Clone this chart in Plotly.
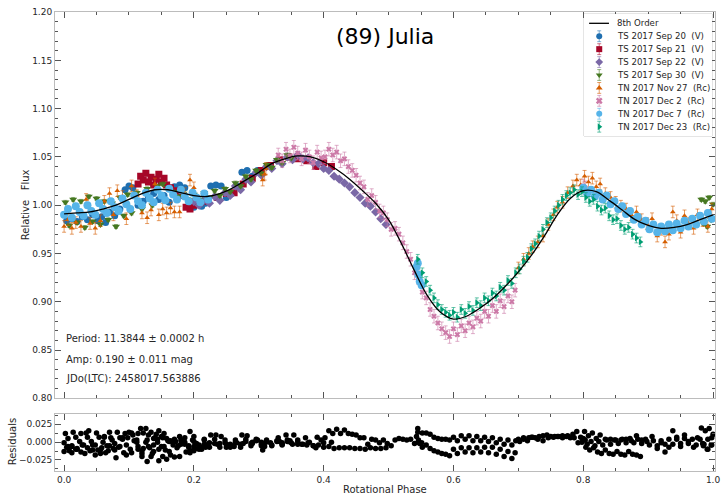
import plotly.graph_objects as go

# ---------------- data ----------------
FIT_PHASE = [0.00, 0.02, 0.04, 0.06, 0.08, 0.10, 0.12, 0.14, 0.16, 0.18, 0.20, 0.22, 0.24, 0.26,
             0.28, 0.30, 0.32, 0.34, 0.36, 0.38, 0.40, 0.42, 0.44, 0.46, 0.48, 0.50, 0.52, 0.54,
             0.56, 0.58, 0.60, 0.62, 0.64, 0.66, 0.68, 0.70, 0.72, 0.74, 0.76, 0.78, 0.80, 0.82,
             0.84, 0.86, 0.88, 0.90, 0.92, 0.94, 0.96, 0.98, 1.00]
FIT_FLUX = [0.991, 0.992, 0.993, 0.996, 1.000, 1.006, 1.012, 1.016, 1.016, 1.013, 1.010, 1.009,
            1.012, 1.018, 1.026, 1.034, 1.043, 1.048, 1.051, 1.050, 1.045, 1.037, 1.027, 1.015,
            1.002, 0.985, 0.960, 0.932, 0.906, 0.889, 0.882, 0.885, 0.893, 0.903, 0.916, 0.931,
            0.948, 0.968, 0.990, 1.007, 1.015, 1.014, 1.005, 0.995, 0.985, 0.979, 0.976, 0.977,
            0.980, 0.985, 0.990]

# (phase, relative flux, residual)
sep20 = [(0.004, 0.984, -0.007), (0.012, 0.986, -0.006), (0.020, 0.983, -0.009), (0.028, 0.988, -0.004),
         (0.036, 0.985, -0.008), (0.044, 0.990, -0.004), (0.052, 0.984, -0.011), (0.058, 0.988, -0.008),
         (0.064, 0.982, -0.015), (0.070, 0.993, -0.005), (0.078, 0.989, -0.011), (0.086, 0.996, -0.006),
         (0.094, 1.016, 0.012), (0.100, 1.020, 0.014), (0.106, 1.018, 0.010), (0.114, 1.000, -0.010),
         (0.122, 1.004, -0.009), (0.130, 1.008, -0.006), (0.138, 1.012, -0.004), (0.146, 1.006, -0.010),
         (0.154, 1.010, -0.006), (0.162, 1.003, -0.013), (0.170, 1.019, 0.004), (0.178, 1.021, 0.008),
         (0.186, 1.018, 0.006), (0.194, 0.999, -0.012), (0.200, 0.998, -0.012), (0.206, 1.001, -0.009),
         (0.212, 0.999, -0.010), (0.218, 1.002, -0.007), (0.226, 1.020, 0.010), (0.234, 1.021, 0.010),
         (0.242, 1.020, 0.008), (0.250, 1.008, -0.007), (0.258, 1.012, -0.005), (0.266, 1.020, -0.001),
         (0.274, 1.034, 0.010), (0.282, 1.036, 0.009), (0.290, 1.030, 0.000), (0.298, 1.036, 0.003)]

sep21 = [(0.114, 1.022, 0.012), (0.118, 1.030, 0.019), (0.122, 1.026, 0.013), (0.126, 1.033, 0.019),
         (0.130, 1.024, 0.010), (0.134, 1.029, 0.014), (0.138, 1.021, 0.005), (0.142, 1.027, 0.011),
         (0.146, 1.032, 0.016), (0.150, 1.024, 0.008), (0.154, 1.028, 0.012), (0.158, 1.021, 0.005),
         (0.164, 1.018, 0.002), (0.172, 1.015, 0.001), (0.180, 1.010, -0.003), (0.188, 0.998, -0.014),
         (0.194, 0.996, -0.015), (0.200, 1.000, -0.010), (0.210, 1.003, -0.007), (0.222, 1.004, -0.005),
         (0.236, 1.008, -0.003), (0.250, 1.012, -0.003), (0.262, 1.013, -0.006), (0.276, 1.022, -0.002),
         (0.290, 1.028, -0.002), (0.304, 1.036, 0.000), (0.318, 1.041, -0.001), (0.332, 1.047, 0.001),
         (0.346, 1.050, 0.001), (0.360, 1.048, -0.003), (0.374, 1.046, -0.004), (0.388, 1.040, -0.008),
         (0.400, 1.044, -0.001), (0.412, 1.040, 0.000)]

sep22 = [(0.200, 1.004, -0.006), (0.208, 1.000, -0.010), (0.216, 1.006, -0.003), (0.224, 1.002, -0.007),
         (0.232, 1.009, -0.002), (0.240, 1.005, -0.007), (0.248, 1.013, -0.001), (0.256, 1.010, -0.007),
         (0.264, 1.020, 0.000), (0.272, 1.016, -0.007), (0.280, 1.027, 0.001), (0.288, 1.024, -0.005),
         (0.296, 1.034, 0.002), (0.304, 1.031, -0.005), (0.312, 1.040, 0.001), (0.320, 1.038, -0.005),
         (0.328, 1.046, 0.001), (0.336, 1.043, -0.004), (0.344, 1.050, 0.001), (0.352, 1.047, -0.003),
         (0.360, 1.052, 0.001), (0.368, 1.048, -0.003), (0.376, 1.049, -0.001), (0.384, 1.044, -0.005),
         (0.392, 1.043, -0.004), (0.400, 1.038, -0.007), (0.408, 1.036, -0.006), (0.416, 1.030, -0.009),
         (0.424, 1.027, -0.008), (0.432, 1.023, -0.008), (0.440, 1.019, -0.008), (0.448, 1.013, -0.009),
         (0.456, 1.008, -0.009), (0.464, 1.002, -0.010), (0.472, 0.999, -0.008), (0.480, 0.993, -0.009),
         (0.488, 0.986, -0.009), (0.496, 0.980, -0.008)]

sep30 = [(0.002, 1.003, 0.012), (0.008, 0.979, -0.012), (0.014, 1.006, 0.014), (0.020, 0.982, -0.010),
         (0.026, 1.004, 0.012), (0.032, 0.977, -0.016), (0.038, 1.009, 0.016), (0.044, 0.983, -0.011),
         (0.050, 1.007, 0.013), (0.056, 0.980, -0.016), (0.062, 1.004, 0.008), (0.068, 0.985, -0.012),
         (0.074, 1.002, 0.003), (0.080, 0.978, -0.022), (0.086, 1.008, 0.006), (0.092, 0.989, -0.015),
         (0.098, 1.011, 0.006), (0.104, 0.992, -0.015), (0.112, 1.013, 0.003), (0.120, 0.996, -0.016),
         (0.128, 1.017, 0.003), (0.136, 1.000, -0.016), (0.144, 1.020, 0.004), (0.152, 1.022, 0.006),
         (0.160, 1.018, 0.002), (0.168, 1.014, -0.001), (0.176, 1.009, -0.005), (0.184, 1.012, 0.000),
         (0.192, 1.006, -0.005), (0.200, 1.011, 0.001), (0.208, 1.006, -0.004), (0.216, 1.013, 0.004),
         (0.224, 1.008, -0.001), (0.232, 1.015, 0.004), (0.240, 1.010, -0.002), (0.248, 1.017, 0.003),
         (0.256, 1.014, -0.003), (0.264, 1.023, 0.003), (0.272, 1.020, -0.003), (0.280, 1.030, 0.004),
         (0.288, 1.027, -0.002), (0.296, 1.036, 0.004), (0.304, 1.033, -0.003), (0.312, 1.042, 0.003),
         (0.320, 1.039, -0.004), (0.328, 1.047, 0.002), (0.336, 1.044, -0.003), (0.344, 1.052, 0.003),
         (0.350, 1.049, -0.001), (0.982, 1.006, 0.020), (0.985, 0.981, -0.005), (0.988, 1.004, 0.016),
         (0.991, 0.978, -0.010), (0.994, 1.008, 0.019), (0.997, 0.985, -0.004), (1.000, 1.001, 0.011)]

nov27 = [(0.000, 0.978, -0.013), (0.006, 0.985, -0.006), (0.012, 0.976, -0.015), (0.018, 0.982, -0.010),
         (0.026, 0.978, -0.014), (0.034, 1.006, 0.013), (0.040, 0.981, -0.012), (0.048, 0.976, -0.018),
         (0.056, 0.984, -0.011), (0.062, 1.004, 0.007), (0.070, 1.012, 0.014), (0.076, 0.990, -0.009),
         (0.082, 1.015, 0.014), (0.090, 1.009, 0.006), (0.096, 0.986, -0.018), (0.104, 1.020, 0.013),
         (0.112, 1.010, 0.000), (0.120, 0.992, -0.020), (0.128, 0.987, -0.027), (0.134, 0.995, -0.020),
         (0.140, 1.022, 0.006), (0.146, 0.990, -0.026), (0.152, 0.996, -0.020), (0.158, 0.992, -0.024),
         (0.164, 0.997, -0.018), (0.170, 0.993, -0.021), (0.178, 0.993, -0.020), (0.186, 1.012, 0.000),
         (0.194, 1.026, 0.015), (0.200, 1.018, 0.008), (0.306, 1.026, -0.011), (0.309, 1.032, -0.006),
         (0.311, 1.038, 0.000), (0.700, 0.935, 0.004), (0.708, 0.944, 0.006), (0.716, 0.950, 0.006),
         (0.722, 0.957, 0.007), (0.730, 0.962, 0.004), (0.738, 0.968, 0.002), (0.746, 0.980, 0.006),
         (0.754, 0.990, 0.007), (0.760, 0.998, 0.008), (0.768, 1.003, 0.006), (0.776, 1.013, 0.009),
         (0.784, 1.020, 0.011), (0.790, 1.026, 0.015), (0.796, 1.021, 0.007), (0.802, 1.030, 0.015),
         (0.808, 1.024, 0.009), (0.814, 1.028, 0.013), (0.820, 1.019, 0.005), (0.826, 1.022, 0.010),
         (0.834, 1.012, 0.004), (0.842, 1.008, 0.004), (0.850, 1.003, 0.003), (0.858, 0.999, 0.003),
         (0.866, 0.996, 0.004), (0.874, 0.990, 0.002), (0.882, 0.993, 0.009), (0.890, 0.985, 0.003),
         (0.898, 0.981, 0.001), (0.906, 0.986, 0.008), (0.914, 0.968, -0.009), (0.920, 0.975, -0.001),
         (0.926, 0.962, -0.014), (0.932, 0.970, -0.007), (0.938, 0.993, 0.016), (0.944, 0.984, 0.007),
         (0.950, 0.972, -0.006), (0.956, 0.989, 0.010), (0.962, 0.981, 0.001), (0.970, 0.976, -0.007),
         (0.976, 0.990, 0.006), (0.984, 0.984, -0.002), (0.992, 0.978, -0.010), (0.998, 0.996, 0.006)]

dec2 = [(0.330, 1.052, 0.006), (0.336, 1.046, -0.001), (0.342, 1.058, 0.010), (0.348, 1.051, 0.002),
        (0.354, 1.060, 0.010), (0.360, 1.054, 0.003), (0.366, 1.048, -0.003), (0.372, 1.057, 0.006),
        (0.378, 1.050, 0.000), (0.384, 1.044, -0.005), (0.390, 1.055, 0.007), (0.396, 1.049, 0.003),
        (0.402, 1.050, 0.006), (0.408, 1.058, 0.016), (0.414, 1.052, 0.012), (0.420, 1.055, 0.018),
        (0.426, 1.046, 0.012), (0.432, 1.048, 0.017), (0.438, 1.040, 0.012), (0.444, 1.036, 0.011),
        (0.450, 1.031, 0.010), (0.456, 1.023, 0.006), (0.462, 1.019, 0.006), (0.468, 1.006, -0.003),
        (0.474, 1.010, 0.004), (0.480, 1.003, 0.003), (0.486, 0.994, -0.001), (0.492, 0.992, 0.003),
        (0.498, 0.985, -0.002), (0.504, 0.975, -0.005), (0.510, 0.976, 0.003), (0.516, 0.970, 0.005),
        (0.522, 0.961, 0.004), (0.528, 0.952, 0.003), (0.534, 0.944, 0.004), (0.540, 0.930, -0.002),
        (0.546, 0.925, 0.000), (0.552, 0.910, -0.007), (0.558, 0.904, -0.004), (0.564, 0.892, -0.009),
        (0.570, 0.885, -0.012), (0.576, 0.878, -0.014), (0.582, 0.872, -0.016), (0.588, 0.868, -0.017),
        (0.594, 0.864, -0.019), (0.600, 0.872, -0.010), (0.606, 0.866, -0.016), (0.612, 0.875, -0.008),
        (0.618, 0.870, -0.014), (0.624, 0.878, -0.008), (0.630, 0.874, -0.015), (0.636, 0.883, -0.008),
        (0.642, 0.880, -0.014), (0.648, 0.890, -0.007), (0.654, 0.885, -0.015), (0.660, 0.896, -0.007),
        (0.666, 0.890, -0.017), (0.672, 0.901, -0.010), (0.678, 0.895, -0.020), (0.684, 0.906, -0.013),
        (0.690, 0.900, -0.023), (0.695, 0.912, -0.015), (0.800, 1.020, 0.005), (0.803, 1.018, 0.003)]

dec7 = [(0.000, 0.990, -0.001), (0.006, 0.996, 0.005), (0.012, 0.987, -0.005), (0.018, 0.999, 0.007),
        (0.024, 0.993, 0.001), (0.030, 0.989, -0.004), (0.036, 1.000, 0.007), (0.042, 0.994, 0.001),
        (0.048, 0.990, -0.004), (0.054, 1.002, 0.007), (0.060, 0.996, 0.000), (0.066, 0.992, -0.005),
        (0.072, 1.004, 0.006), (0.078, 0.998, -0.002), (0.084, 0.994, -0.007), (0.090, 1.007, 0.004),
        (0.096, 1.001, -0.004), (0.102, 0.996, -0.010), (0.108, 1.010, 0.002), (0.114, 1.004, -0.006),
        (0.120, 1.000, -0.012), (0.126, 1.013, 0.000), (0.132, 1.007, -0.008), (0.138, 1.003, -0.013),
        (0.144, 1.016, 0.000), (0.150, 1.010, -0.006), (0.156, 1.005, -0.011), (0.162, 1.017, 0.001),
        (0.168, 1.011, -0.004), (0.174, 1.006, -0.008), (0.180, 1.016, 0.003), (0.186, 1.009, -0.003),
        (0.192, 1.004, -0.007), (0.198, 1.013, 0.003), (0.204, 1.008, -0.002), (0.210, 1.003, -0.007),
        (0.216, 1.012, 0.003), (0.222, 1.006, -0.003),
        (0.543, 0.936, 0.008), (0.545, 0.940, 0.014), (0.546, 0.928, 0.003), (0.548, 0.921, -0.002),
        (0.551, 0.917, -0.001),
        (0.800, 1.018, 0.003), (0.806, 1.012, -0.003), (0.812, 1.016, 0.001), (0.818, 1.009, -0.005),
        (0.824, 1.013, 0.001), (0.830, 1.006, -0.004), (0.836, 1.010, 0.003), (0.842, 1.001, -0.003),
        (0.848, 1.004, 0.003), (0.854, 0.996, -0.002), (0.860, 0.999, 0.004), (0.866, 0.991, -0.001),
        (0.872, 0.994, 0.005), (0.878, 0.985, -0.001), (0.884, 0.988, 0.004), (0.890, 0.980, -0.002),
        (0.896, 0.984, 0.004), (0.902, 0.975, -0.004), (0.908, 0.980, 0.002), (0.914, 0.972, -0.005),
        (0.920, 0.978, 0.002), (0.926, 0.973, -0.003), (0.932, 0.980, 0.004), (0.938, 0.974, -0.003),
        (0.944, 0.981, 0.004), (0.950, 0.976, -0.002), (0.956, 0.984, 0.005), (0.962, 0.978, -0.002),
        (0.968, 0.986, 0.004), (0.974, 0.980, -0.004), (0.980, 0.989, 0.004), (0.986, 0.983, -0.003),
        (0.992, 0.992, 0.004), (0.998, 0.986, -0.004)]

dec23 = [(0.545, 0.944, 0.019), (0.552, 0.930, 0.013), (0.558, 0.921, 0.013), (0.564, 0.912, 0.011),
         (0.570, 0.904, 0.007), (0.576, 0.897, 0.005), (0.582, 0.892, 0.004), (0.588, 0.889, 0.004),
         (0.594, 0.886, 0.003), (0.600, 0.889, 0.007), (0.606, 0.884, 0.002), (0.612, 0.892, 0.009),
         (0.618, 0.888, 0.004), (0.624, 0.895, 0.009), (0.630, 0.891, 0.002), (0.636, 0.899, 0.008),
         (0.642, 0.896, 0.002), (0.648, 0.904, 0.007), (0.654, 0.901, 0.001), (0.660, 0.909, 0.006),
         (0.666, 0.906, -0.001), (0.672, 0.915, 0.004), (0.678, 0.912, -0.003), (0.684, 0.922, 0.003),
         (0.690, 0.919, -0.004), (0.696, 0.930, 0.002), (0.702, 0.934, 0.001), (0.708, 0.942, 0.004),
         (0.714, 0.946, 0.002), (0.720, 0.955, 0.007), (0.726, 0.960, 0.006), (0.732, 0.968, 0.008),
         (0.738, 0.975, 0.009), (0.744, 0.982, 0.010), (0.750, 0.987, 0.008), (0.756, 0.994, 0.008),
         (0.762, 1.000, 0.008), (0.768, 1.006, 0.009), (0.774, 1.010, 0.008), (0.780, 1.013, 0.006),
         (0.786, 1.016, 0.006), (0.792, 1.011, -0.001), (0.798, 1.014, 0.000), (0.804, 1.008, -0.007),
         (0.810, 1.004, -0.011), (0.816, 1.006, -0.008), (0.822, 0.999, -0.014), (0.828, 0.995, -0.016),
         (0.834, 0.997, -0.011), (0.840, 0.989, -0.016), (0.846, 0.985, -0.017), (0.852, 0.986, -0.013),
         (0.858, 0.979, -0.017), (0.864, 0.975, -0.018), (0.870, 0.977, -0.013), (0.876, 0.970, -0.017),
         (0.882, 0.966, -0.018), (0.888, 0.962, -0.020)]

# one flux uncertainty per session
ERR = [0.002, 0.002, 0.002, 0.002, 0.006, 0.007, 0.003, 0.005]

LABELS = ["TS 2017 Sep 20\u00a0\u00a0(V)", "TS 2017 Sep 21\u00a0\u00a0(V)", "TS 2017 Sep 22\u00a0\u00a0(V)",
          "TS 2017 Sep 30\u00a0\u00a0(V)", "TN 2017 Nov 27\u00a0\u00a0(Rc)", "TN 2017 Dec 2\u00a0\u00a0(Rc)",
          "TN 2017 Dec 7\u00a0\u00a0(Rc)", "TN 2017 Dec 23\u00a0\u00a0(Rc)"]
SESSIONS = [sep20, sep21, sep22, sep30, nov27, dec2, dec7, dec23]
FIT_LABEL = "8th Order"
TITLE = "(89) Julia"
INFO = ["Period: 11.3844 \u00b1 0.0002 h", "Amp: 0.190 \u00b1 0.011 mag", "JDo(LTC): 2458017.563886"]

# ---------------- styles ----------------
COLORS = ["#1f6fb0", "#A60628", "#7A68A6", "#467821", "#D55E00", "#CC79A7", "#56B4E9", "#009E73"]
ECOLORS = ["rgba(31,111,176,0.55)", "rgba(166,6,40,0.55)", "rgba(122,104,166,0.55)", "rgba(70,120,33,0.55)",
           "rgba(213,94,0,0.6)", "rgba(204,121,167,0.6)", "rgba(86,180,233,0.6)", "rgba(0,158,115,0.6)"]
SYMBOLS = ["circle", "square", "diamond", "triangle-down", "triangle-up", "x", "circle", "triangle-right"]
SIZES = [7, 7, 7, 7, 5, 5, 8, 6]
FONT = "DejaVu Sans"
TXT = "#262626"
FRAME = "#bcbcbc"
TICKC = "#555555"

fig = go.Figure()

# main light-curve points
for pts, err, lab, c, ec, sym, sz in zip(SESSIONS, ERR, LABELS, COLORS, ECOLORS, SYMBOLS, SIZES):
    ph = [p[0] for p in pts]
    fl = [p[1] for p in pts]
    fig.add_trace(go.Scatter(
        x=ph, y=fl, mode="markers", name=lab, showlegend=False,
        marker=dict(symbol=sym, size=sz, color=c, line=dict(width=0, color=c)),
        error_y=dict(type="constant", value=err, color=ec, thickness=1, width=2),
        xaxis="x", yaxis="y"))

# fit curve
fig.add_trace(go.Scatter(x=FIT_PHASE, y=FIT_FLUX, mode="lines", showlegend=False,
                         line=dict(color="black", width=1.3, shape="spline"), xaxis="x", yaxis="y"))

# residuals
res_x, res_y = [], []
for pts in SESSIONS:
    res_x += [p[0] for p in pts]
    res_y += [p[2] for p in pts]
fig.add_trace(go.Scatter(x=res_x, y=res_y, mode="markers", showlegend=False,
                         marker=dict(symbol="circle", size=5.5, color="black"),
                         xaxis="x2", yaxis="y2"))

# ---------------- hand-built legend on its own small axes ----------------
rows = list(range(len(LABELS) + 1))
fig.add_trace(go.Scatter(x=[0.04, 0.195], y=[rows[0], rows[0]], mode="lines", showlegend=False,
                         line=dict(color="black", width=1.3), xaxis="x3", yaxis="y3"))
for i, (c, ec, sym) in enumerate(zip(COLORS, ECOLORS, SYMBOLS)):
    fig.add_trace(go.Scatter(x=[0.119], y=[rows[i + 1]], mode="markers", showlegend=False,
                             marker=dict(symbol=sym, size=6, color=c, line=dict(width=0, color=c)),
                             error_y=dict(type="constant", value=0.42, color=ec, thickness=1, width=2),
                             xaxis="x3", yaxis="y3"))

annotations = []
for r, lab in zip(rows, [FIT_LABEL] + LABELS):
    annotations.append(dict(x=0.245, y=r, xref="x3", yref="y3", text=lab, showarrow=False,
                            xanchor="left", yanchor="middle", font=dict(family=FONT, size=8.6, color=TXT)))

# paper coordinate helpers (figure 722x495, margins l=55 r=2 t=12 b=24)
L, R, T, B, W, H = 55, 2, 12, 24, 722, 495
PW, PH = W - L - R, H - T - B


def px(x):
    return (x - L) / PW


def py(y):
    return (H - B - y) / PH


annotations.append(dict(x=px(388), y=py(36), xref="paper", yref="paper", text=TITLE, showarrow=False,
                        xanchor="center", yanchor="middle", font=dict(family=FONT, size=22, color="black")))
for txt, yy in zip(INFO, [338.5, 359, 378.5]):
    annotations.append(dict(x=px(64), y=py(yy), xref="paper", yref="paper", text=txt, showarrow=False,
                            xanchor="left", yanchor="middle", font=dict(family=FONT, size=10, color=TXT)))
annotations.append(dict(x=px(25), y=py(205), xref="paper", yref="paper",
                        text="Relative\u00a0\u00a0\u00a0Flux", showarrow=False, textangle=-90,
                        xanchor="center", yanchor="middle", font=dict(family=FONT, size=10, color=TXT)))
annotations.append(dict(x=px(12), y=py(442), xref="paper", yref="paper", text="Residuals",
                        showarrow=False, textangle=-90, xanchor="center", yanchor="middle",
                        font=dict(family=FONT, size=10, color=TXT)))
annotations.append(dict(x=px(388), y=py(489), xref="paper", yref="paper", text="Rotational Phase",
                        showarrow=False, xanchor="center", yanchor="middle",
                        font=dict(family=FONT, size=10, color=TXT)))

shapes = [dict(type="rect", xref="paper", yref="paper", x0=px(588), x1=px(717), y0=py(136), y1=py(14),
               line=dict(color="#cccccc", width=1), fillcolor="white", layer="below")]

XR = [-0.014, 1.003]
common = dict(showline=True, linecolor=FRAME, linewidth=1, mirror="allticks", ticks="inside",
              tickcolor=TICKC, ticklen=6, tickwidth=1, showgrid=False, zeroline=False,
              tickfont=dict(family=FONT, size=9, color=TXT), ticklabeloverflow="allow")

fig.update_layout(
    width=W, height=H, margin=dict(l=L, r=R, t=T, b=B),
    paper_bgcolor="white", plot_bgcolor="white", showlegend=False,
    font=dict(family=FONT, color=TXT),
    xaxis=dict(domain=[0, 1], anchor="y", range=XR, tick0=0, dtick=0.2, showticklabels=False,
               minor=dict(dtick=0.05, ticklen=3, ticks="inside", tickcolor=TICKC), **common),
    yaxis=dict(domain=[py(398.4), 1], anchor="x", range=[0.7999, 1.2001], tick0=0.8, dtick=0.05,
               tickformat=".2f", minor=dict(dtick=0.01, ticklen=3, ticks="inside", tickcolor=TICKC),
               **common),
    xaxis2=dict(domain=[0, 1], anchor="y2", range=XR, tick0=0, dtick=0.2, tickformat=".1f",
                minor=dict(dtick=0.05, ticklen=3, ticks="inside", tickcolor=TICKC), **common),
    yaxis2=dict(domain=[0, py(414)], anchor="x2", range=[-0.0405, 0.0395], tick0=0, dtick=0.025,
                tickformat=".3f", minor=dict(dtick=0.0125, ticklen=3, ticks="inside", tickcolor=TICKC),
                **common),
    xaxis3=dict(domain=[px(588), px(717)], anchor="y3", range=[0, 1], visible=False, fixedrange=True),
    yaxis3=dict(domain=[py(136), py(14)], anchor="x3", range=[8.72, -0.72], visible=False, fixedrange=True),
    annotations=annotations,
    shapes=shapes,
)

fig.write_html("out.html")
